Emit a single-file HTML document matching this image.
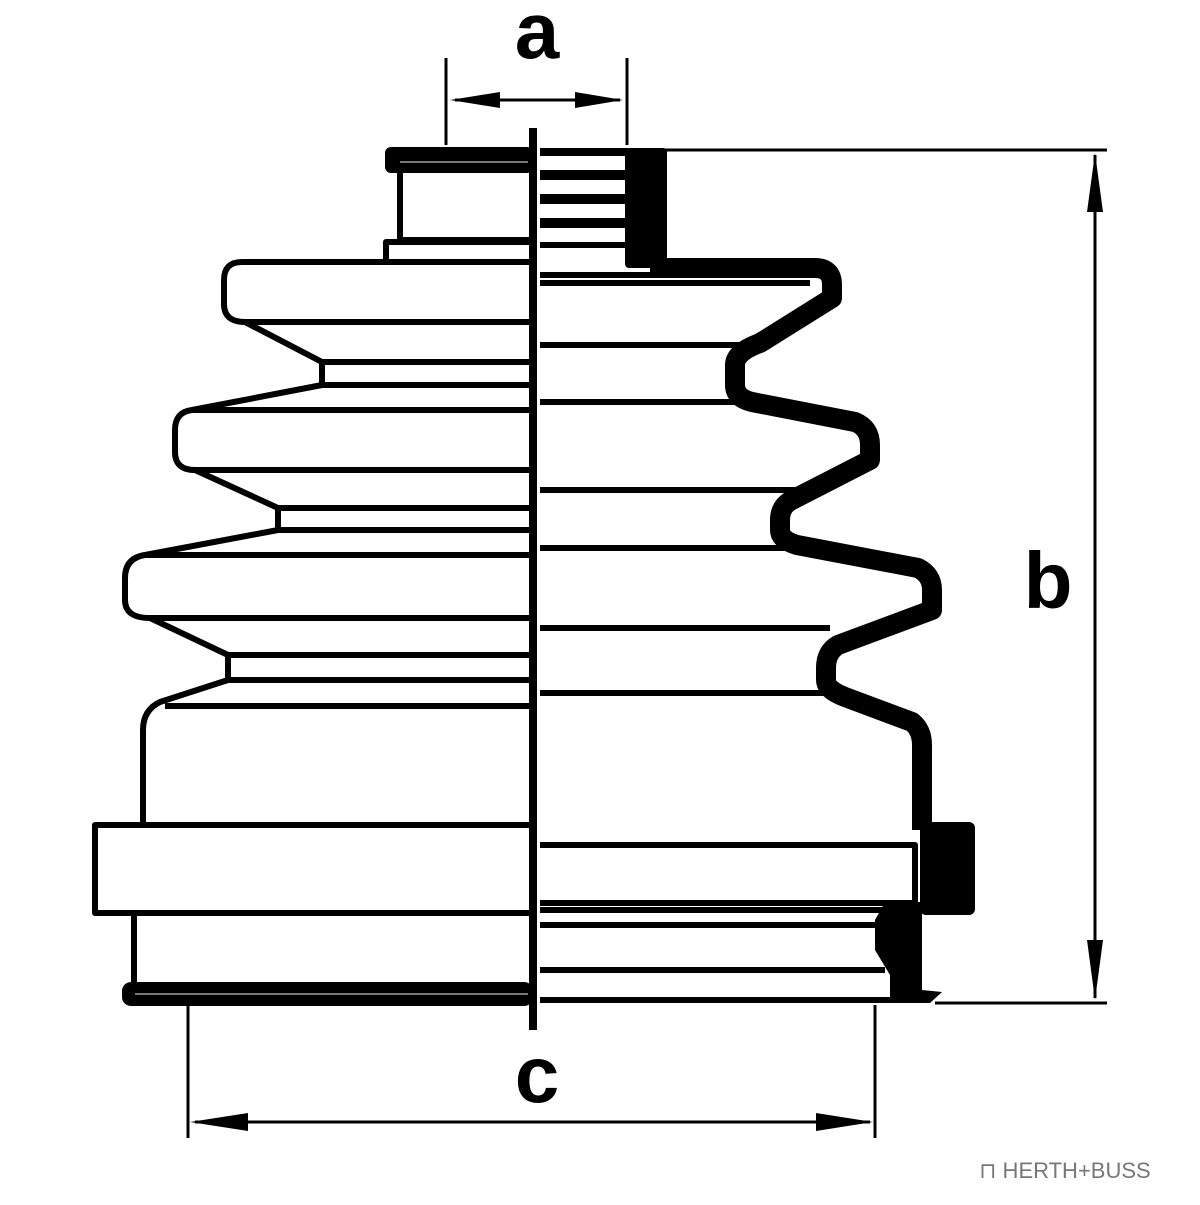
<!DOCTYPE html>
<html><head><style>html,body{margin:0;padding:0;background:#fff}</style></head>
<body>
<svg width="1200" height="1200" viewBox="0 0 1200 1200" xmlns="http://www.w3.org/2000/svg">
<g fill="none" stroke="#000" stroke-width="6" stroke-linejoin="round">
<!-- top collar left -->
<rect x="388" y="150" width="142" height="20" fill="#000" rx="3"/>
<line x1="400" y1="162" x2="528" y2="162" stroke="#777" stroke-width="2"/>
<path d="M400 170 V240 H530"/>
<path d="M386 262 V242 H530"/>
<!-- left silhouette -->
<path d="M530 262 H242 Q224 262 224 280 V304 Q224 322 245 322 L322 362 V385 L192 410 Q175 412 175 430 V452 Q175 470 195 470 L278 508 V530 L145 555 Q125 558 125 578 V600 Q125 618 150 618 L228 655 V680 L160 702 Q143 710 143 730 V822"/>
<line x1="245" y1="322" x2="530" y2="322"/>
<line x1="322" y1="362" x2="530" y2="362"/>
<line x1="322" y1="385" x2="530" y2="385"/>
<line x1="192" y1="410" x2="530" y2="410"/>
<line x1="195" y1="470" x2="530" y2="470"/>
<line x1="278" y1="508" x2="530" y2="508"/>
<line x1="278" y1="530" x2="530" y2="530"/>
<line x1="145" y1="555" x2="530" y2="555"/>
<line x1="150" y1="618" x2="530" y2="618"/>
<line x1="228" y1="655" x2="530" y2="655"/>
<line x1="228" y1="680" x2="530" y2="680"/>
<line x1="165" y1="706" x2="530" y2="706"/>
<path d="M530 825 H95 V913 H530"/>
<path d="M134 913 V987"/>
<rect x="125" y="985" width="405" height="18" fill="#000" rx="6"/>
<line x1="135" y1="994" x2="528" y2="994" stroke="#777" stroke-width="2"/>
<!-- right side top -->
<rect x="540" y="148" width="88" height="8" fill="#000" stroke="none"/>
<rect x="625" y="148" width="42" height="120" fill="#000" stroke="none" rx="4"/>
<rect x="540" y="170" width="90" height="10" fill="#000" stroke="none"/>
<rect x="540" y="194" width="90" height="10" fill="#000" stroke="none"/>
<rect x="540" y="218" width="90" height="10" fill="#000" stroke="none"/>
<line x1="540" y1="245" x2="640" y2="245"/>
<line x1="540" y1="275" x2="660" y2="275"/>
<!-- right wall -->
<path d="M650 268 H815 Q832 268 832 285 V298 L760 343 Q735 352 735 365 V385 Q735 398 752 402 L855 422 Q870 428 870 445 V460 L792 500 Q780 506 780 520 V530 Q780 540 797 545 L918 568 Q932 575 932 590 V610 L838 645 Q826 652 826 668 V680 Q826 690 845 697 L912 722 Q922 730 922 745 V830" stroke-width="20"/>
<line x1="540" y1="283" x2="810" y2="283"/>
<line x1="540" y1="345" x2="740" y2="345"/>
<line x1="540" y1="402" x2="752" y2="402"/>
<line x1="540" y1="490" x2="795" y2="490"/>
<line x1="540" y1="548" x2="790" y2="548"/>
<line x1="540" y1="628" x2="830" y2="628"/>
<line x1="540" y1="693" x2="835" y2="693"/>
<!-- right lower -->
<rect x="920" y="822" width="55" height="93" fill="#000" stroke="none" rx="6"/>
<path d="M540 845 H915 V903 H540"/>
<line x1="540" y1="910" x2="890" y2="910"/>
<line x1="540" y1="925" x2="880" y2="925"/>
<line x1="540" y1="970" x2="885" y2="970"/>
<line x1="540" y1="1000" x2="895" y2="1000"/>
<path d="M885 902 H922 V990 L942 992 L930 1003 H890 V975 L875 950 V920 Z" fill="#000" stroke="none"/>
</g>
<!-- center line -->
<line x1="533" y1="128" x2="533" y2="1030" stroke="#000" stroke-width="8"/>
<!-- dimensions -->
<g stroke="#000" stroke-width="3" fill="#000">
<line x1="446" y1="58" x2="446" y2="145"/>
<line x1="627" y1="58" x2="627" y2="145"/>
<line x1="455" y1="100" x2="620" y2="100"/>
<polygon points="450,100 500,92 500,108" stroke="none"/>
<polygon points="623,100 575,92 575,108" stroke="none"/>
<line x1="660" y1="150" x2="1107" y2="150"/>
<line x1="935" y1="1003" x2="1107" y2="1003"/>
<line x1="1095" y1="155" x2="1095" y2="998"/>
<polygon points="1095,153 1087,212 1103,212" stroke="none"/>
<polygon points="1095,1000 1087,940 1103,940" stroke="none"/>
<line x1="188" y1="1005" x2="188" y2="1138"/>
<line x1="875" y1="1005" x2="875" y2="1138"/>
<line x1="195" y1="1122" x2="870" y2="1122"/>
<polygon points="190,1122 248,1113 248,1131" stroke="none"/>
<polygon points="873,1122 816,1113 816,1131" stroke="none"/>
</g>
<g font-family="Liberation Sans, sans-serif" font-weight="bold" fill="#000" text-anchor="middle">
<text x="537" y="58" font-size="80">a</text>
<text x="1048" y="608" font-size="80">b</text>
<text x="537" y="1102" font-size="80">c</text>
</g>
<text x="1065" y="1178" font-family="Liberation Sans, sans-serif" font-size="22" fill="#777" text-anchor="middle">⊓ HERTH+BUSS</text>
</svg>
</body></html>
